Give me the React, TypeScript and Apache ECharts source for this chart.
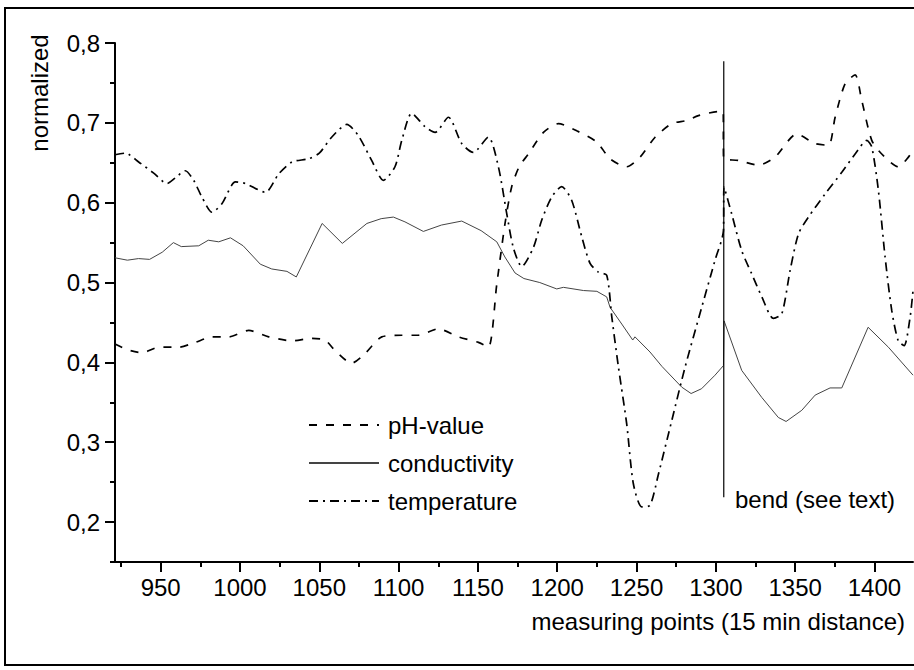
import React, { useEffect, useRef } from "react";
import * as echarts from "echarts";

const xMajorTicks = [950, 1000, 1050, 1100, 1150, 1200, 1250, 1300, 1350, 1400];
const xMinorTicks = [925, 975, 1025, 1075, 1125, 1175, 1225, 1275, 1325, 1375];
const yMajorTicks = [0.2, 0.3, 0.4, 0.5, 0.6, 0.7, 0.8];
const yMinorTicks = [0.15, 0.25, 0.35, 0.45, 0.55, 0.65, 0.75];
const seriesNames = ["pH-value", "conductivity", "temperature"];
const xAxisTitle = "measuring points (15 min distance)";
const yAxisTitle = "normalized";
const bendText = "bend (see text)";

const phValues = [
  [921.2, 0.423], [928.8, 0.416], [938.2, 0.412], [948.8, 0.419], [961.4, 0.419], [971.8, 0.425],
  [982.4, 0.432], [993, 0.432], [1005.5, 0.44], [1018.1, 0.432], [1032.8, 0.427], [1045.4, 0.43],
  [1053.6, 0.428], [1059.9, 0.415], [1070.4, 0.399], [1078.8, 0.411], [1089.4, 0.432], [1102, 0.434],
  [1112.4, 0.434], [1125, 0.442], [1137.7, 0.432], [1150.3, 0.425], [1156.6, 0.419], [1161.9, 0.498],
  [1167.1, 0.574], [1171.3, 0.62], [1176, 0.645], [1181.8, 0.661], [1191.3, 0.688], [1200.7, 0.699],
  [1212.3, 0.69], [1224.9, 0.676], [1233.3, 0.655], [1243.8, 0.645], [1252.2, 0.657], [1261.7, 0.682],
  [1272.2, 0.699], [1281.7, 0.703], [1289, 0.709], [1301.6, 0.714], [1304.6, 0.714], [1304.9, 0.655],
  [1314.2, 0.653], [1326.8, 0.647], [1337.3, 0.657], [1351, 0.686], [1362.6, 0.674], [1371, 0.672],
  [1375.2, 0.707], [1381.5, 0.749], [1387.8, 0.76], [1392, 0.728], [1398.3, 0.678], [1404.6, 0.661],
  [1415, 0.645], [1421.4, 0.657], [1424.3, 0.666],
];

const conductivityValues = [
  [921.2, 0.531], [929, 0.528], [936, 0.53], [943, 0.529], [951, 0.538], [958, 0.55], [963, 0.545],
  [974, 0.546], [980, 0.553], [986.6, 0.551], [994, 0.556], [1002, 0.546], [1012.8, 0.523], [1020, 0.517],
  [1029.6, 0.514], [1035.5, 0.507], [1051.8, 0.574], [1064.5, 0.549], [1080, 0.574], [1089, 0.58],
  [1096.7, 0.582], [1104, 0.576], [1115.6, 0.564], [1127, 0.572], [1139.8, 0.577], [1152, 0.565],
  [1161.9, 0.551], [1167, 0.532], [1173.4, 0.512], [1179, 0.505], [1189, 0.5], [1199.7, 0.492],
  [1203.9, 0.494], [1216.5, 0.49], [1225, 0.489], [1231.2, 0.482], [1233.3, 0.469], [1240.7, 0.448],
  [1247.6, 0.428], [1249, 0.432], [1258.5, 0.413], [1266, 0.395], [1278.5, 0.369], [1284.4, 0.361],
  [1291, 0.367], [1299.5, 0.384], [1304.8, 0.396], [1305.2, 0.452], [1316.3, 0.39], [1329, 0.356],
  [1339.4, 0.331], [1344.3, 0.326], [1354.2, 0.34], [1362.6, 0.359], [1372, 0.368], [1379.4, 0.368],
  [1396, 0.444], [1408.8, 0.419], [1424.3, 0.384],
];

const temperatureValues = [
  [921.2, 0.66], [927.7, 0.662], [936.1, 0.651], [945.6, 0.637], [954, 0.624], [959.2, 0.631],
  [965.5, 0.64], [970.8, 0.628], [976, 0.607], [982.4, 0.588], [988.7, 0.599], [997.1, 0.626],
  [1003.4, 0.624], [1016, 0.613], [1024.4, 0.636], [1032.8, 0.651], [1043.3, 0.655], [1050, 0.662],
  [1057.8, 0.682], [1067.3, 0.698], [1074.6, 0.684], [1083, 0.653], [1090.4, 0.628], [1097.7, 0.645],
  [1102, 0.678], [1108.3, 0.712], [1116.7, 0.695], [1123, 0.688], [1131.4, 0.707], [1139.8, 0.674],
  [1147.1, 0.663], [1156.6, 0.682], [1162.9, 0.645], [1168.2, 0.586], [1172.3, 0.544], [1177.6, 0.52],
  [1185, 0.544], [1190.2, 0.578], [1196.5, 0.607], [1202.8, 0.62], [1209.1, 0.603], [1215.5, 0.557],
  [1220.7, 0.524], [1226, 0.513], [1231.2, 0.509], [1234.4, 0.457], [1238.6, 0.394], [1243.8, 0.323],
  [1248, 0.248], [1253.3, 0.219], [1258.5, 0.221], [1263.8, 0.26], [1272.2, 0.327], [1280.6, 0.394],
  [1291.1, 0.469], [1299.5, 0.528], [1304.8, 0.565], [1305.1, 0.62], [1310, 0.586], [1316.3, 0.54],
  [1322.6, 0.511], [1329, 0.482], [1336.3, 0.455], [1341.6, 0.461], [1346.8, 0.515], [1352.1, 0.561],
  [1358.4, 0.582], [1368.9, 0.611], [1379.4, 0.638], [1387.8, 0.661], [1395.2, 0.678], [1398.3, 0.67],
  [1402.5, 0.615], [1406.7, 0.532], [1410.9, 0.465], [1415, 0.427], [1418.7, 0.421], [1422.5, 0.457],
  [1424.3, 0.49],
];

const bendLine = [[1305, 0.777], [1305, 0.231]];

const FONT = "Liberation Sans, Arial, sans-serif";
const FS = 24;

export default function App() {
  const ref = useRef<HTMLDivElement>(null);
  useEffect(() => {
    if (!ref.current) return;
    const chart = echarts.init(ref.current, null, { renderer: "svg" });
    const xMin = 921.2;
    const xMax = 1424.3;
    const yMin = 0.15;
    const yMax = 0.8;
    const axisCommon = {
      type: "value" as const,
      splitLine: { show: false },
    };
    chart.setOption({
      animation: false,
      backgroundColor: "#fff",
      textStyle: { fontFamily: FONT },
      grid: { left: 115, top: 43, width: 798, height: 519, containLabel: false },
      xAxis: [
        {
          ...axisCommon,
          position: "bottom",
          min: xMin,
          max: xMax,
          axisLine: { show: true, onZero: false, lineStyle: { color: "#000", width: 2 } },
          axisTick: { show: true, customValues: xMajorTicks, length: 10, lineStyle: { color: "#000", width: 2 } },
          axisLabel: {
            customValues: xMajorTicks,
            fontSize: FS,
            color: "#000",
            margin: 13,
            fontFamily: FONT,
            formatter: (v: number) => String(Math.round(v)),
          },
        },
        {
          ...axisCommon,
          position: "bottom",
          min: xMin,
          max: xMax,
          axisLine: { show: false, onZero: false },
          axisTick: { show: true, customValues: xMinorTicks, length: 5, lineStyle: { color: "#000", width: 2 } },
          axisLabel: { show: false },
        },
      ],
      yAxis: [
        {
          ...axisCommon,
          position: "left",
          min: yMin,
          max: yMax,
          axisLine: { show: true, onZero: false, lineStyle: { color: "#000", width: 2 } },
          axisTick: { show: true, customValues: yMajorTicks, length: 10, lineStyle: { color: "#000", width: 2 } },
          axisLabel: {
            customValues: yMajorTicks,
            fontSize: FS,
            color: "#000",
            margin: 15,
            fontFamily: FONT,
            formatter: (v: number) => v.toFixed(1).replace(".", ","),
          },
        },
        {
          ...axisCommon,
          position: "left",
          min: yMin,
          max: yMax,
          axisLine: { show: false, onZero: false },
          axisTick: { show: true, customValues: yMinorTicks, length: 5, lineStyle: { color: "#000", width: 2 } },
          axisLabel: { show: false },
        },
      ],
      legend: {
        data: seriesNames,
        orient: "vertical",
        left: 308,
        top: 413,
        padding: 0,
        itemWidth: 70,
        itemHeight: 14,
        itemGap: 14,
        selectedMode: false,
        itemStyle: { opacity: 0 },
        textStyle: { fontSize: FS, color: "#000", fontFamily: FONT, padding: [0, 0, 0, 4] },
      },
      series: [
        {
          name: seriesNames[0],
          type: "line",
          data: phValues,
          symbol: "none",
          smooth: 0.25,
          lineStyle: { color: "#000", width: 1.7, type: [8, 9] },
          itemStyle: { color: "#000" },
        },
        {
          name: seriesNames[1],
          type: "line",
          data: conductivityValues,
          symbol: "none",
          lineStyle: { color: "#444", width: 1 },
          itemStyle: { color: "#444" },
        },
        {
          name: seriesNames[2],
          type: "line",
          data: temperatureValues,
          symbol: "none",
          smooth: 0.25,
          lineStyle: { color: "#000", width: 1.7, type: [9, 5, 2, 5] },
          itemStyle: { color: "#000" },
        },
        {
          name: "bend",
          type: "line",
          data: bendLine,
          symbol: "none",
          lineStyle: { color: "#000", width: 1.2 },
          silent: true,
        },
      ],
      graphic: [
        {
          type: "rect",
          shape: { x: 5, y: 8, width: 930, height: 657 },
          style: { fill: "none", stroke: "#000", lineWidth: 2 },
          silent: true,
        },
        {
          type: "text",
          x: 39,
          y: 93,
          rotation: Math.PI / 2,
          style: { text: yAxisTitle, fontSize: FS, fill: "#000", fontFamily: FONT, textAlign: "center", textVerticalAlign: "middle" },
        },
        {
          type: "text",
          x: 905,
          y: 621,
          style: { text: xAxisTitle, fontSize: FS, fill: "#000", fontFamily: FONT, textAlign: "right", textVerticalAlign: "middle" },
        },
        {
          type: "text",
          x: 735,
          y: 499,
          style: { text: bendText, fontSize: FS, fill: "#000", fontFamily: FONT, textAlign: "left", textVerticalAlign: "middle" },
        },
      ],
    });
    return () => chart.dispose();
  }, []);
  return (
    <div
      ref={ref}
      style={{ position: "fixed", left: 0, top: 0, width: 914, height: 670, background: "#fff" }}
    />
  );
}
